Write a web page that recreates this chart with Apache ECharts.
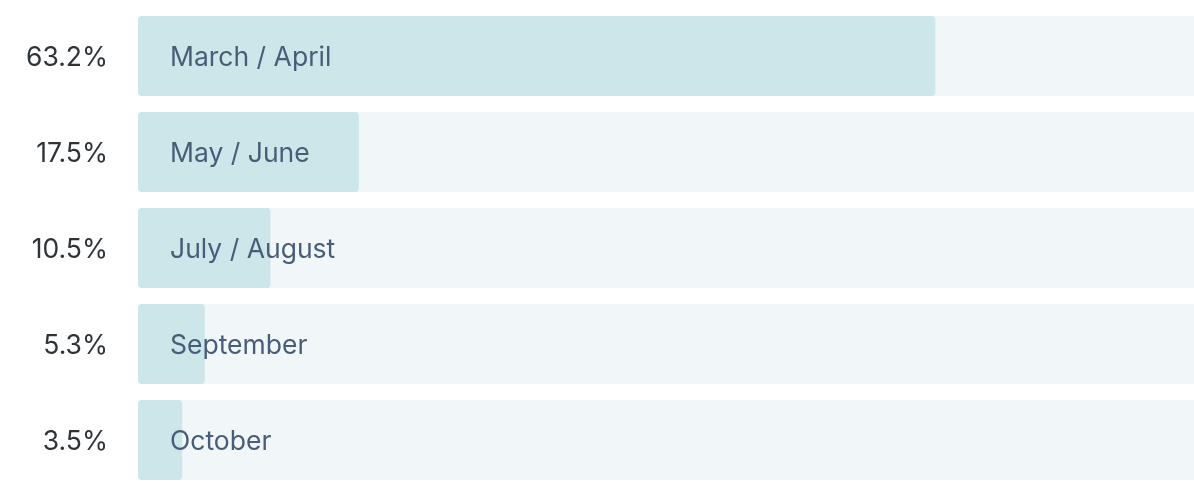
<!DOCTYPE html>
<html>
<head>
<meta charset="utf-8">
<script src="https://cdn.jsdelivr.net/npm/echarts@6/dist/echarts.min.js"></script>
<style>
html,body{margin:0;padding:0;background:#fff;}
#chart{width:1194px;height:492px;}
</style>
</head>
<body>
<div id="chart"></div>
<script>
const categories = ['March / April', 'May / June', 'July / August', 'September', 'October'];
const values = [63.2, 17.5, 10.5, 5.3, 3.5];

const chart = echarts.init(document.getElementById('chart'), null, {renderer: 'canvas'});
chart.setOption({
  animation: false,
  grid: {left: 138, right: 0, top: 8, bottom: 4, containLabel: false},
  xAxis: {
    type: 'value', min: 0, max: 83.7, show: false
  },
  yAxis: {
    type: 'category', data: categories, inverse: true,
    axisLine: {show: false}, axisTick: {show: false}, splitLine: {show: false},
    axisLabel: {
      margin: 30,
      verticalAlign: 'top',
      lineHeight: 32,
      padding: [-14, 0, 0, 0],
      fontFamily: 'Inter', fontSize: 26.5, color: '#2f3438',
      formatter: (v, i) => values[i].toFixed(1) + '%'
    }
  },
  series: [{
    type: 'bar',
    data: values,
    barWidth: 80,
    showBackground: true,
    backgroundStyle: {color: '#f1f6f9', borderRadius: [4, 0, 0, 4]},
    itemStyle: {color: '#cde6ea', borderRadius: 4},
    label: {
      show: true, position: 'insideLeft', distance: 32,
      offset: [0, 2.5],
      formatter: p => categories[p.dataIndex],
      fontFamily: 'Inter', fontSize: 26.5, color: '#475d78'
    }
  }]
});
</script>
</body>
</html>
